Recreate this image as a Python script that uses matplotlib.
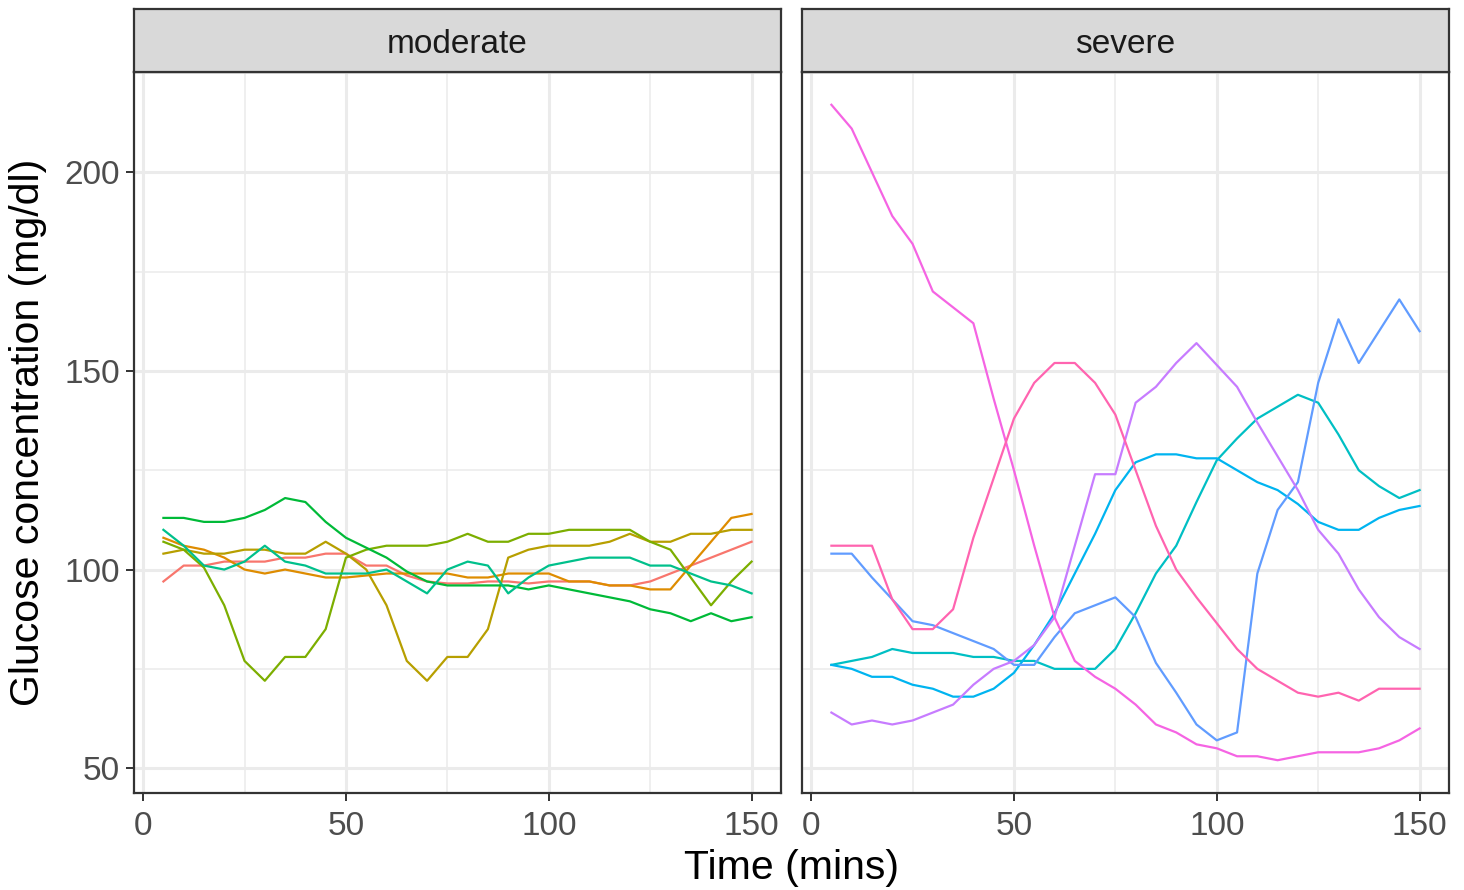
import matplotlib
matplotlib.use("Agg")
import matplotlib.pyplot as plt
import numpy as np

plt.rcParams['font.family'] = ['Liberation Sans', 'DejaVu Sans']

time = list(range(5, 155, 5))

facets = ["moderate", "severe"]

# moderate
s1 = [97, 101, 101, 102, 102, 102, 103, 103, 104, 104, 101, 101, 98.5, 97, 96.5, 96.5, 97, 97, 96.5, 97, 97, 97, 96, 96, 97, 99, 101, 103, 105, 107]
s2 = [108, 106, 105, 103, 100, 99, 100, 99, 98, 98, 98.5, 99, 99, 99, 99, 98, 98, 99, 99, 99, 97, 97, 96, 96, 95, 95, 101, 107, 113, 114]
s3 = [104, 105, 104, 104, 105, 105, 104, 104, 107, 104, 100, 91, 77, 72, 78, 78, 85, 103, 105, 106, 106, 106, 107, 109, 107, 107, 109, 109, 110, 110]
s4 = [107, 105, 100.5, 91, 77, 72, 78, 78, 85, 103, 105, 106, 106, 106, 107, 109, 107, 107, 109, 109, 110, 110, 110, 110, 107, 105, 98, 91, 97, 102]
s5 = [113, 113, 112, 112, 113, 115, 118, 117, 112, 108, 105.5, 103, 99.5, 97, 96, 96, 96, 96, 95, 96, 95, 94, 93, 92, 90, 89, 87, 89, 87, 88]
s6 = [110, 106, 101, 100, 102, 106, 102, 101, 99, 99, 99, 100, 97, 94, 100, 102, 101, 94, 98, 101, 102, 103, 103, 103, 101, 101, 99, 97, 96, 94]
# severe
s7 = [76, 77, 78, 80, 79, 79, 79, 78, 78, 77, 77, 75, 75, 75, 80, 89, 99, 106, 117, 127.5, 133, 138, 141, 144, 142, 134, 125, 121, 118, 120]
s8 = [76, 75, 73, 73, 71, 70, 68, 68, 70, 74, 81, 89, 99, 109, 120, 127, 129, 129, 128, 128, 125, 122, 120, 116.5, 112, 110, 110, 113, 115, 116]
s9 = [104, 104, 98, 92.5, 87, 86, 84, 82, 80, 76, 76, 83, 89, 91, 93, 88, 76.5, 69, 61, 57, 59, 99, 115, 122, 147, 163, 152, 160, 168, 160]
s10 = [64, 61, 62, 61, 62, 64, 66, 71, 75, 77, 81, 88, 106, 124, 124, 142, 146, 152, 157, 151.5, 146, 137, 128.5, 120, 110, 104, 95, 88, 83, 80]
s11 = [217, 211, 200, 189, 182, 170, 166, 162, 143, 125, 106, 88, 77, 73, 70, 66, 61, 59, 56, 55, 53, 53, 52, 53, 54, 54, 54, 55, 57, 60]
s12 = [106, 106, 106, 92.5, 85, 85, 90, 108, 123, 138, 147, 152, 152, 147, 139, 125, 111, 100, 93, 86.5, 80, 75, 72, 69, 68, 69, 67, 70, 70, 70]

moderate_series = [s1, s2, s3, s4, s5, s6]
severe_series = [s7, s8, s9, s10, s11, s12]
colors = ["#F8766D", "#DE8C00", "#B79F00", "#7CAE00", "#00BA38", "#00C08B",
          "#00BFC4", "#00B4F0", "#619CFF", "#C77CFF", "#F564E3", "#FF64B0"]

x_ticks = [0, 50, 100, 150]
x_minor = [25, 75, 125]
y_ticks = [50, 100, 150, 200]
y_minor = [75, 125, 175, 225]

W, H = 1464, 890
fig = plt.figure(figsize=(W / 100, H / 100), dpi=100)

panel_left = [134, 802]
panel_w = 647
panel_top = 72
panel_bot = 793
strip_top = 9

tick_col = "#4D4D4D"
border_col = "#333333"
grid_col = "#EBEBEB"

for i, (name, series_list) in enumerate(zip(facets, [moderate_series, severe_series])):
    ax = fig.add_axes([panel_left[i] / W, (H - panel_bot) / H, panel_w / W, (panel_bot - panel_top) / H])
    ax.set_xlim(-2.25, 157.25)
    ax.set_ylim(43.75, 225.25)
    ax.set_xticks(x_ticks)
    ax.set_xticks(x_minor, minor=True)
    ax.set_yticks(y_ticks)
    ax.set_yticks(y_minor, minor=True)
    ax.grid(which="major", color=grid_col, linewidth=2.2, zorder=0)
    ax.grid(which="minor", color=grid_col, linewidth=1.1, zorder=0)
    ax.set_axisbelow(True)
    for sp in ax.spines.values():
        sp.set_color(border_col)
        sp.set_linewidth(1.6)
    ax.tick_params(axis="both", which="major", length=6, width=1.4, color=border_col,
                   labelcolor=tick_col, labelsize=24, pad=4)
    ax.tick_params(axis="x", which="major", pad=7)
    ax.tick_params(axis="both", which="minor", length=0)
    if i == 1:
        ax.tick_params(axis="y", labelleft=False, length=0)
    for j, ys in enumerate(series_list):
        ax.plot(time, ys, color=colors[i * 6 + j], linewidth=1.6, zorder=3)
    # strip
    sax = fig.add_axes([panel_left[i] / W, (H - panel_top) / H, panel_w / W, (panel_top - strip_top) / H])
    sax.set_xlim(0, 1)
    sax.set_ylim(0, 1)
    sax.set_xticks([])
    sax.set_yticks([])
    sax.set_facecolor("#D9D9D9")
    for sp in sax.spines.values():
        sp.set_color(border_col)
        sp.set_linewidth(1.6)
    sax.text(0.5, 0.44, name, ha="center", va="center", fontsize=24, color="#1A1A1A")

fig.text((134 + 1449) / 2 / W, 1 - 868 / H, "Time (mins)", ha="center", va="center", fontsize=29.5, color="black")
fig.text(28 / W, 1 - 432 / H, "Glucose concentration (mg/dl)", ha="center", va="center",
         rotation=90, fontsize=29.5, color="black")

fig.savefig("out.png", dpi=100, facecolor="white")
